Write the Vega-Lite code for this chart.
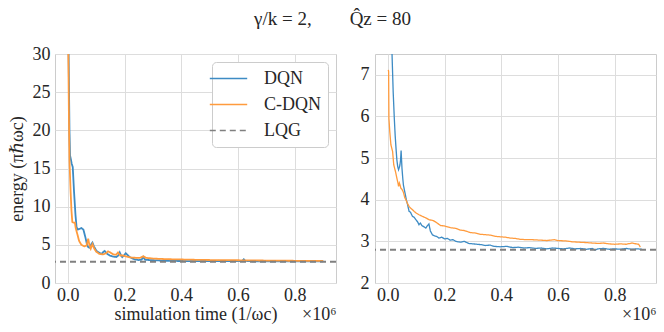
{
  "$schema": "https://vega.github.io/schema/vega-lite/v6.json",
  "padding": {"left": 7, "top": 9, "right": 6, "bottom": 2},
  "background": "white",
  "config": {
    "font": "Liberation Serif, DejaVu Serif, serif",
    "view": {"stroke": "#cccccc", "strokeWidth": 1},
    "axis": {
      "grid": true, "gridColor": "#dddddd", "gridWidth": 1,
      "domain": false, "ticks": false, "labelOverlap": false,
      "labelFont": "Liberation Serif, DejaVu Serif, serif", "labelFontSize": 18, "labelColor": "#262626",
      "titleFont": "Liberation Serif, DejaVu Serif, serif", "titleFontSize": 18, "titleFontWeight": "normal", "titleColor": "#262626"
    },
    "legend": {
      "labelFont": "Liberation Serif, DejaVu Serif, serif", "labelFontSize": 18, "labelColor": "#262626"
    },
    "title": {"font": "Liberation Serif, DejaVu Serif, serif", "fontSize": 19, "fontWeight": "normal", "color": "#262626"}
  },
  "title": {"text": "γ/k = 2,\u2003\u2003Q̂z = 80", "anchor": "middle", "offset": 16},
  "datasets": {
    "leftLines": [
      {"t": 0.000, "energy": 45, "method": "DQN"},
      {"t": 0.003, "energy": 30, "method": "DQN"},
      {"t": 0.006, "energy": 20, "method": "DQN"},
      {"t": 0.008, "energy": 16.7, "method": "DQN"},
      {"t": 0.011, "energy": 16.2, "method": "DQN"},
      {"t": 0.014, "energy": 15.6, "method": "DQN"},
      {"t": 0.0175, "energy": 15.2, "method": "DQN"},
      {"t": 0.022, "energy": 12, "method": "DQN"},
      {"t": 0.027, "energy": 9, "method": "DQN"},
      {"t": 0.031, "energy": 7.3, "method": "DQN"},
      {"t": 0.036, "energy": 7.0, "method": "DQN"},
      {"t": 0.042, "energy": 7.1, "method": "DQN"},
      {"t": 0.048, "energy": 7.2, "method": "DQN"},
      {"t": 0.055, "energy": 7.0, "method": "DQN"},
      {"t": 0.062, "energy": 6.0, "method": "DQN"},
      {"t": 0.068, "energy": 5.0, "method": "DQN"},
      {"t": 0.072, "energy": 4.7, "method": "DQN"},
      {"t": 0.078, "energy": 4.6, "method": "DQN"},
      {"t": 0.083, "energy": 5.1, "method": "DQN"},
      {"t": 0.087, "energy": 5.3, "method": "DQN"},
      {"t": 0.092, "energy": 4.8, "method": "DQN"},
      {"t": 0.101, "energy": 4.2, "method": "DQN"},
      {"t": 0.110, "energy": 4.0, "method": "DQN"},
      {"t": 0.119, "energy": 3.8, "method": "DQN"},
      {"t": 0.126, "energy": 4.1, "method": "DQN"},
      {"t": 0.130, "energy": 4.2, "method": "DQN"},
      {"t": 0.136, "energy": 3.9, "method": "DQN"},
      {"t": 0.148, "energy": 3.6, "method": "DQN"},
      {"t": 0.160, "energy": 3.45, "method": "DQN"},
      {"t": 0.171, "energy": 3.4, "method": "DQN"},
      {"t": 0.178, "energy": 3.6, "method": "DQN"},
      {"t": 0.183, "energy": 4.0, "method": "DQN"},
      {"t": 0.188, "energy": 3.6, "method": "DQN"},
      {"t": 0.192, "energy": 3.4, "method": "DQN"},
      {"t": 0.198, "energy": 3.6, "method": "DQN"},
      {"t": 0.204, "energy": 3.9, "method": "DQN"},
      {"t": 0.210, "energy": 3.7, "method": "DQN"},
      {"t": 0.218, "energy": 3.4, "method": "DQN"},
      {"t": 0.235, "energy": 3.1, "method": "DQN"},
      {"t": 0.250, "energy": 3.0, "method": "DQN"},
      {"t": 0.260, "energy": 3.05, "method": "DQN"},
      {"t": 0.266, "energy": 3.4, "method": "DQN"},
      {"t": 0.272, "energy": 3.05, "method": "DQN"},
      {"t": 0.290, "energy": 3.0, "method": "DQN"},
      {"t": 0.310, "energy": 2.97, "method": "DQN"},
      {"t": 0.350, "energy": 2.9, "method": "DQN"},
      {"t": 0.400, "energy": 2.88, "method": "DQN"},
      {"t": 0.450, "energy": 2.87, "method": "DQN"},
      {"t": 0.500, "energy": 2.86, "method": "DQN"},
      {"t": 0.550, "energy": 2.86, "method": "DQN"},
      {"t": 0.600, "energy": 2.86, "method": "DQN"},
      {"t": 0.615, "energy": 2.9, "method": "DQN"},
      {"t": 0.620, "energy": 3.1, "method": "DQN"},
      {"t": 0.625, "energy": 2.9, "method": "DQN"},
      {"t": 0.650, "energy": 2.85, "method": "DQN"},
      {"t": 0.700, "energy": 2.85, "method": "DQN"},
      {"t": 0.750, "energy": 2.84, "method": "DQN"},
      {"t": 0.800, "energy": 2.84, "method": "DQN"},
      {"t": 0.850, "energy": 2.83, "method": "DQN"},
      {"t": 0.900, "energy": 2.83, "method": "DQN"},
      {"t": 0.000, "energy": 45, "method": "C-DQN"},
      {"t": 0.002, "energy": 30, "method": "C-DQN"},
      {"t": 0.004, "energy": 22, "method": "C-DQN"},
      {"t": 0.006, "energy": 16, "method": "C-DQN"},
      {"t": 0.010, "energy": 12, "method": "C-DQN"},
      {"t": 0.013, "energy": 9.5, "method": "C-DQN"},
      {"t": 0.016, "energy": 8.0, "method": "C-DQN"},
      {"t": 0.020, "energy": 7.9, "method": "C-DQN"},
      {"t": 0.025, "energy": 7.9, "method": "C-DQN"},
      {"t": 0.028, "energy": 7.2, "method": "C-DQN"},
      {"t": 0.033, "energy": 6.5, "method": "C-DQN"},
      {"t": 0.040, "energy": 5.5, "method": "C-DQN"},
      {"t": 0.048, "energy": 5.0, "method": "C-DQN"},
      {"t": 0.058, "energy": 4.8, "method": "C-DQN"},
      {"t": 0.066, "energy": 4.9, "method": "C-DQN"},
      {"t": 0.072, "energy": 5.8, "method": "C-DQN"},
      {"t": 0.076, "energy": 5.0, "method": "C-DQN"},
      {"t": 0.081, "energy": 4.5, "method": "C-DQN"},
      {"t": 0.087, "energy": 5.1, "method": "C-DQN"},
      {"t": 0.092, "energy": 4.6, "method": "C-DQN"},
      {"t": 0.100, "energy": 4.1, "method": "C-DQN"},
      {"t": 0.112, "energy": 3.8, "method": "C-DQN"},
      {"t": 0.125, "energy": 3.75, "method": "C-DQN"},
      {"t": 0.135, "energy": 3.9, "method": "C-DQN"},
      {"t": 0.142, "energy": 4.15, "method": "C-DQN"},
      {"t": 0.150, "energy": 4.0, "method": "C-DQN"},
      {"t": 0.160, "energy": 3.75, "method": "C-DQN"},
      {"t": 0.170, "energy": 3.7, "method": "C-DQN"},
      {"t": 0.177, "energy": 4.0, "method": "C-DQN"},
      {"t": 0.185, "energy": 3.6, "method": "C-DQN"},
      {"t": 0.195, "energy": 3.6, "method": "C-DQN"},
      {"t": 0.205, "energy": 3.5, "method": "C-DQN"},
      {"t": 0.220, "energy": 3.35, "method": "C-DQN"},
      {"t": 0.240, "energy": 3.3, "method": "C-DQN"},
      {"t": 0.255, "energy": 3.3, "method": "C-DQN"},
      {"t": 0.266, "energy": 3.5, "method": "C-DQN"},
      {"t": 0.275, "energy": 3.3, "method": "C-DQN"},
      {"t": 0.300, "energy": 3.2, "method": "C-DQN"},
      {"t": 0.350, "energy": 3.12, "method": "C-DQN"},
      {"t": 0.400, "energy": 3.08, "method": "C-DQN"},
      {"t": 0.450, "energy": 3.04, "method": "C-DQN"},
      {"t": 0.500, "energy": 3.01, "method": "C-DQN"},
      {"t": 0.560, "energy": 3.0, "method": "C-DQN"},
      {"t": 0.620, "energy": 2.97, "method": "C-DQN"},
      {"t": 0.700, "energy": 2.94, "method": "C-DQN"},
      {"t": 0.800, "energy": 2.91, "method": "C-DQN"},
      {"t": 0.900, "energy": 2.89, "method": "C-DQN"}
    ],
    "rightLines": [
      {"t": 0.010, "energy": 9.5, "method": "DQN"},
      {"t": 0.015, "energy": 7.5, "method": "DQN"},
      {"t": 0.019, "energy": 6.6, "method": "DQN"},
      {"t": 0.023, "energy": 5.96, "method": "DQN"},
      {"t": 0.026, "energy": 5.55, "method": "DQN"},
      {"t": 0.029, "energy": 5.24, "method": "DQN"},
      {"t": 0.032, "energy": 4.96, "method": "DQN"},
      {"t": 0.035, "energy": 4.8, "method": "DQN"},
      {"t": 0.038, "energy": 4.72, "method": "DQN"},
      {"t": 0.041, "energy": 4.78, "method": "DQN"},
      {"t": 0.043, "energy": 4.84, "method": "DQN"},
      {"t": 0.045, "energy": 4.95, "method": "DQN"},
      {"t": 0.047, "energy": 5.18, "method": "DQN"},
      {"t": 0.049, "energy": 4.9, "method": "DQN"},
      {"t": 0.050, "energy": 4.76, "method": "DQN"},
      {"t": 0.053, "energy": 4.5, "method": "DQN"},
      {"t": 0.055, "energy": 4.36, "method": "DQN"},
      {"t": 0.058, "energy": 4.25, "method": "DQN"},
      {"t": 0.062, "energy": 4.12, "method": "DQN"},
      {"t": 0.066, "energy": 3.98, "method": "DQN"},
      {"t": 0.070, "energy": 3.88, "method": "DQN"},
      {"t": 0.075, "energy": 3.72, "method": "DQN"},
      {"t": 0.080, "energy": 3.7, "method": "DQN"},
      {"t": 0.087, "energy": 3.6, "method": "DQN"},
      {"t": 0.093, "energy": 3.58, "method": "DQN"},
      {"t": 0.099, "energy": 3.52, "method": "DQN"},
      {"t": 0.105, "energy": 3.47, "method": "DQN"},
      {"t": 0.110, "energy": 3.4, "method": "DQN"},
      {"t": 0.115, "energy": 3.44, "method": "DQN"},
      {"t": 0.120, "energy": 3.38, "method": "DQN"},
      {"t": 0.125, "energy": 3.36, "method": "DQN"},
      {"t": 0.130, "energy": 3.34, "method": "DQN"},
      {"t": 0.134, "energy": 3.32, "method": "DQN"},
      {"t": 0.140, "energy": 3.38, "method": "DQN"},
      {"t": 0.145, "energy": 3.42, "method": "DQN"},
      {"t": 0.150, "energy": 3.25, "method": "DQN"},
      {"t": 0.157, "energy": 3.16, "method": "DQN"},
      {"t": 0.165, "energy": 3.13, "method": "DQN"},
      {"t": 0.172, "energy": 3.12, "method": "DQN"},
      {"t": 0.180, "energy": 3.08, "method": "DQN"},
      {"t": 0.190, "energy": 3.1, "method": "DQN"},
      {"t": 0.200, "energy": 3.06, "method": "DQN"},
      {"t": 0.210, "energy": 3.07, "method": "DQN"},
      {"t": 0.220, "energy": 3.03, "method": "DQN"},
      {"t": 0.230, "energy": 3.04, "method": "DQN"},
      {"t": 0.240, "energy": 3.0, "method": "DQN"},
      {"t": 0.256, "energy": 2.98, "method": "DQN"},
      {"t": 0.270, "energy": 3.0, "method": "DQN"},
      {"t": 0.285, "energy": 2.95, "method": "DQN"},
      {"t": 0.300, "energy": 2.94, "method": "DQN"},
      {"t": 0.315, "energy": 2.93, "method": "DQN"},
      {"t": 0.330, "energy": 2.92, "method": "DQN"},
      {"t": 0.345, "energy": 2.9, "method": "DQN"},
      {"t": 0.360, "energy": 2.91, "method": "DQN"},
      {"t": 0.375, "energy": 2.88, "method": "DQN"},
      {"t": 0.396, "energy": 2.87, "method": "DQN"},
      {"t": 0.420, "energy": 2.88, "method": "DQN"},
      {"t": 0.440, "energy": 2.85, "method": "DQN"},
      {"t": 0.460, "energy": 2.86, "method": "DQN"},
      {"t": 0.480, "energy": 2.84, "method": "DQN"},
      {"t": 0.500, "energy": 2.85, "method": "DQN"},
      {"t": 0.520, "energy": 2.83, "method": "DQN"},
      {"t": 0.540, "energy": 2.84, "method": "DQN"},
      {"t": 0.560, "energy": 2.82, "method": "DQN"},
      {"t": 0.580, "energy": 2.84, "method": "DQN"},
      {"t": 0.600, "energy": 2.83, "method": "DQN"},
      {"t": 0.620, "energy": 2.82, "method": "DQN"},
      {"t": 0.640, "energy": 2.84, "method": "DQN"},
      {"t": 0.660, "energy": 2.82, "method": "DQN"},
      {"t": 0.680, "energy": 2.83, "method": "DQN"},
      {"t": 0.700, "energy": 2.81, "method": "DQN"},
      {"t": 0.720, "energy": 2.83, "method": "DQN"},
      {"t": 0.730, "energy": 2.79, "method": "DQN"},
      {"t": 0.740, "energy": 2.82, "method": "DQN"},
      {"t": 0.760, "energy": 2.83, "method": "DQN"},
      {"t": 0.780, "energy": 2.81, "method": "DQN"},
      {"t": 0.800, "energy": 2.82, "method": "DQN"},
      {"t": 0.820, "energy": 2.81, "method": "DQN"},
      {"t": 0.840, "energy": 2.83, "method": "DQN"},
      {"t": 0.860, "energy": 2.81, "method": "DQN"},
      {"t": 0.880, "energy": 2.82, "method": "DQN"},
      {"t": 0.895, "energy": 2.81, "method": "DQN"},
      {"t": 0.002, "energy": 7.12, "method": "C-DQN"},
      {"t": 0.003, "energy": 7.08, "method": "C-DQN"},
      {"t": 0.004, "energy": 5.96, "method": "C-DQN"},
      {"t": 0.007, "energy": 5.64, "method": "C-DQN"},
      {"t": 0.011, "energy": 5.32, "method": "C-DQN"},
      {"t": 0.017, "energy": 5.16, "method": "C-DQN"},
      {"t": 0.021, "energy": 4.84, "method": "C-DQN"},
      {"t": 0.027, "energy": 4.68, "method": "C-DQN"},
      {"t": 0.032, "energy": 4.52, "method": "C-DQN"},
      {"t": 0.036, "energy": 4.4, "method": "C-DQN"},
      {"t": 0.038, "energy": 4.32, "method": "C-DQN"},
      {"t": 0.041, "energy": 4.4, "method": "C-DQN"},
      {"t": 0.043, "energy": 4.36, "method": "C-DQN"},
      {"t": 0.046, "energy": 4.28, "method": "C-DQN"},
      {"t": 0.050, "energy": 4.25, "method": "C-DQN"},
      {"t": 0.055, "energy": 4.18, "method": "C-DQN"},
      {"t": 0.060, "energy": 4.05, "method": "C-DQN"},
      {"t": 0.064, "energy": 4.0, "method": "C-DQN"},
      {"t": 0.070, "energy": 3.9, "method": "C-DQN"},
      {"t": 0.075, "energy": 3.84, "method": "C-DQN"},
      {"t": 0.080, "energy": 3.8, "method": "C-DQN"},
      {"t": 0.087, "energy": 3.76, "method": "C-DQN"},
      {"t": 0.093, "energy": 3.72, "method": "C-DQN"},
      {"t": 0.100, "energy": 3.68, "method": "C-DQN"},
      {"t": 0.110, "energy": 3.64, "method": "C-DQN"},
      {"t": 0.122, "energy": 3.6, "method": "C-DQN"},
      {"t": 0.135, "energy": 3.56, "method": "C-DQN"},
      {"t": 0.145, "energy": 3.52, "method": "C-DQN"},
      {"t": 0.160, "energy": 3.5, "method": "C-DQN"},
      {"t": 0.170, "energy": 3.46, "method": "C-DQN"},
      {"t": 0.186, "energy": 3.38, "method": "C-DQN"},
      {"t": 0.200, "energy": 3.37, "method": "C-DQN"},
      {"t": 0.221, "energy": 3.33, "method": "C-DQN"},
      {"t": 0.240, "energy": 3.31, "method": "C-DQN"},
      {"t": 0.256, "energy": 3.27, "method": "C-DQN"},
      {"t": 0.270, "energy": 3.26, "method": "C-DQN"},
      {"t": 0.291, "energy": 3.21, "method": "C-DQN"},
      {"t": 0.310, "energy": 3.2, "method": "C-DQN"},
      {"t": 0.326, "energy": 3.17, "method": "C-DQN"},
      {"t": 0.345, "energy": 3.16, "method": "C-DQN"},
      {"t": 0.361, "energy": 3.15, "method": "C-DQN"},
      {"t": 0.380, "energy": 3.12, "method": "C-DQN"},
      {"t": 0.396, "energy": 3.11, "method": "C-DQN"},
      {"t": 0.415, "energy": 3.1, "method": "C-DQN"},
      {"t": 0.431, "energy": 3.08, "method": "C-DQN"},
      {"t": 0.450, "energy": 3.07, "method": "C-DQN"},
      {"t": 0.466, "energy": 3.05, "method": "C-DQN"},
      {"t": 0.490, "energy": 3.04, "method": "C-DQN"},
      {"t": 0.510, "energy": 3.04, "method": "C-DQN"},
      {"t": 0.535, "energy": 3.03, "method": "C-DQN"},
      {"t": 0.560, "energy": 3.02, "method": "C-DQN"},
      {"t": 0.587, "energy": 3.04, "method": "C-DQN"},
      {"t": 0.600, "energy": 3.02, "method": "C-DQN"},
      {"t": 0.628, "energy": 3.01, "method": "C-DQN"},
      {"t": 0.650, "energy": 2.99, "method": "C-DQN"},
      {"t": 0.675, "energy": 2.98, "method": "C-DQN"},
      {"t": 0.700, "energy": 2.97, "method": "C-DQN"},
      {"t": 0.720, "energy": 2.96, "method": "C-DQN"},
      {"t": 0.744, "energy": 2.95, "method": "C-DQN"},
      {"t": 0.760, "energy": 2.96, "method": "C-DQN"},
      {"t": 0.779, "energy": 2.94, "method": "C-DQN"},
      {"t": 0.800, "energy": 2.93, "method": "C-DQN"},
      {"t": 0.820, "energy": 2.94, "method": "C-DQN"},
      {"t": 0.840, "energy": 2.93, "method": "C-DQN"},
      {"t": 0.860, "energy": 2.96, "method": "C-DQN"},
      {"t": 0.875, "energy": 2.94, "method": "C-DQN"},
      {"t": 0.884, "energy": 2.93, "method": "C-DQN"},
      {"t": 0.890, "energy": 2.86, "method": "C-DQN"}
    ],
    "lqg": [{"energy": 2.8, "method": "LQG"}]
  },
  "resolve": {"scale": {"color": "independent", "strokeDash": "independent"}},
  "spacing": 21,
  "hconcat": [
    {
      "width": 281,
      "height": 229,
      "resolve": {"axis": {"x": "independent"}},
      "layer": [
        {
          "data": {"name": "leftLines"},
          "mark": {"type": "line", "clip": true, "strokeWidth": 1.8},
          "encoding": {
            "x": {"field": "t", "type": "quantitative",
                  "scale": {"domain": [-0.045, 0.945], "nice": false, "zero": false},
                  "axis": {"orient": "bottom", "values": [0, 0.2, 0.4, 0.6, 0.8], "tickCount": 10, "format": ".1f", "labelPadding": 3, "title": "simulation time (1/ωc)", "titlePadding": 1}},
            "y": {"field": "energy", "type": "quantitative",
                  "scale": {"domain": [0, 30], "nice": false},
                  "axis": {"values": [0, 5, 10, 15, 20, 25, 30], "tickCount": 10, "format": "d", "labelPadding": 5, "title": "energy (πℏωc)", "titlePadding": 6}},
            "color": {"field": "method", "type": "nominal",
                      "scale": {"domain": ["DQN", "C-DQN", "LQG"], "range": ["#3d8bc4", "#ff9b3d", "#808080"]},
                      "legend": {"title": null, "orient": "top-right", "offset": 8, "fillColor": "white", "strokeColor": "#cccccc", "cornerRadius": 4, "padding": 7, "symbolType": "M-2.2,0H2.2", "symbolSize": 289, "symbolStrokeWidth": 1.6, "labelOffset": 26, "rowPadding": 7}},
            "strokeDash": {"field": "method", "type": "nominal",
                           "scale": {"domain": ["DQN", "C-DQN", "LQG"], "range": [[1, 0], [1, 0], [6, 4]]},
                           "legend": {"title": null, "orient": "top-right", "offset": 8, "fillColor": "white", "strokeColor": "#cccccc", "cornerRadius": 4, "padding": 7, "symbolType": "M-2.2,0H2.2", "symbolSize": 289, "symbolStrokeWidth": 1.6, "labelOffset": 26, "rowPadding": 7}}
          }
        },
        {
          "data": {"name": "lqg"},
          "mark": {"type": "rule", "strokeWidth": 2},
          "encoding": {
            "y": {"field": "energy", "type": "quantitative"},
            "color": {"field": "method", "type": "nominal"},
            "strokeDash": {"field": "method", "type": "nominal"}
          }
        },
        {
          "data": {"values": [{}]},
          "mark": {"type": "rule", "opacity": 0},
          "encoding": {
            "x": {"datum": 0, "type": "quantitative",
                  "axis": {"orient": "bottom", "grid": false, "values": [0, 0.2, 0.4, 0.6, 0.8], "tickCount": 10, "format": ".1f", "labelOpacity": 0, "labelPadding": 3, "title": "×10⁶", "titleAnchor": "end", "titlePadding": 1}}
          }
        }
      ]
    },
    {
      "width": 281,
      "height": 229,
      "layer": [
        {
          "data": {"name": "rightLines"},
          "mark": {"type": "line", "clip": true, "strokeWidth": 1.3},
          "encoding": {
            "x": {"field": "t", "type": "quantitative",
                  "scale": {"domain": [-0.045, 0.945], "nice": false, "zero": false},
                  "axis": {"values": [0, 0.2, 0.4, 0.6, 0.8], "tickCount": 10, "format": ".1f", "labelPadding": 3, "title": "×10⁶", "titleAnchor": "end", "titlePadding": 1}},
            "y": {"field": "energy", "type": "quantitative",
                  "scale": {"domain": [2, 7.5], "nice": false, "zero": false},
                  "axis": {"values": [2, 3, 4, 5, 6, 7], "tickCount": 10, "format": "d", "labelPadding": 6, "title": null}},
            "color": {"field": "method", "type": "nominal",
                      "scale": {"domain": ["DQN", "C-DQN", "LQG"], "range": ["#3d8bc4", "#ff9b3d", "#808080"]},
                      "legend": null},
            "strokeDash": {"field": "method", "type": "nominal",
                           "scale": {"domain": ["DQN", "C-DQN", "LQG"], "range": [[1, 0], [1, 0], [6, 4]]},
                           "legend": null}
          }
        },
        {
          "data": {"name": "lqg"},
          "mark": {"type": "rule", "strokeWidth": 2},
          "encoding": {
            "y": {"field": "energy", "type": "quantitative"},
            "color": {"field": "method", "type": "nominal"},
            "strokeDash": {"field": "method", "type": "nominal"}
          }
        }
      ]
    }
  ]
}
